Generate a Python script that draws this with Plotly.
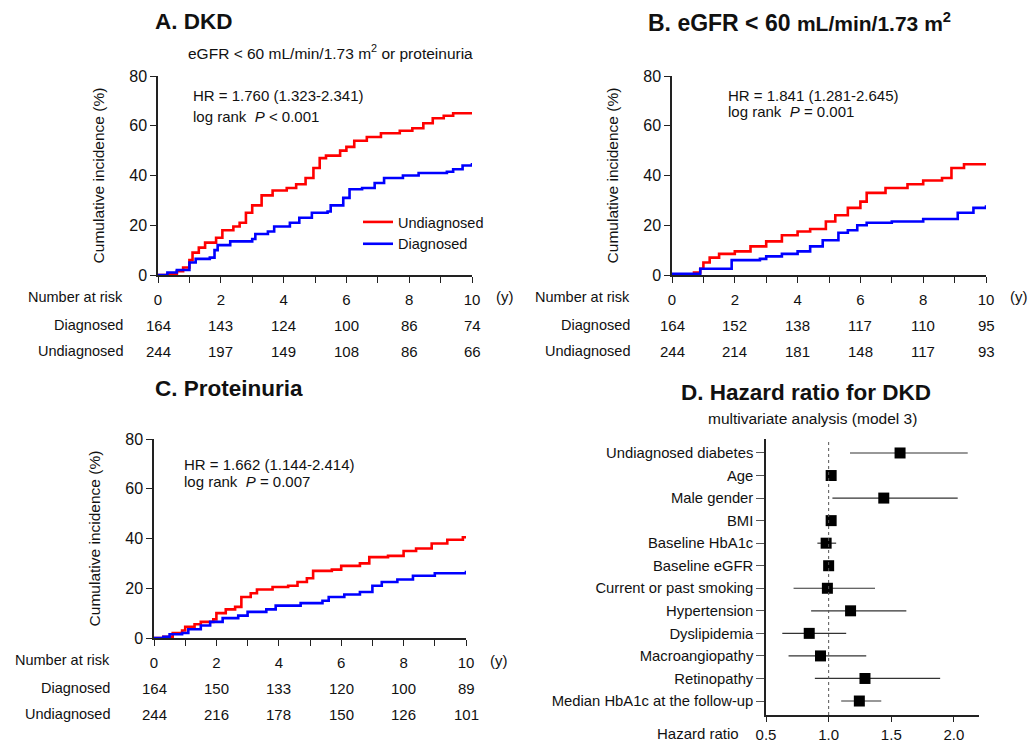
import plotly.graph_objects as go

W, H = 1029, 743
FONT = "Liberation Sans, Arial, sans-serif"

# ---------------- data ----------------
years_ticks = [0, 2, 4, 6, 8, 10]

A_red_t = [0, 0.3, 0.6, 0.8, 1.0, 1.1, 1.3, 1.5, 1.85, 2.05, 2.4, 2.6, 2.8, 3.0, 3.3, 3.65, 4.1, 4.4, 4.7, 4.95, 5.15, 5.35, 5.8, 6.0, 6.25, 6.65, 7.1, 7.7, 8.1, 8.45, 8.75, 9.1, 9.4, 10]
A_red_v = [0, 0.4, 1.5, 3, 6, 9, 11, 13, 15, 18, 19.5, 21, 25, 28, 32, 34, 35, 36.5, 39, 43, 47, 48, 50, 51.5, 54, 55.5, 57, 58, 59, 61, 63, 64, 65, 65]
A_blue_t = [0, 0.3, 0.6, 0.9, 1.0, 1.2, 1.65, 1.8, 1.9, 2.3, 3.0, 3.1, 3.5, 3.7, 4.2, 4.5, 4.9, 5.4, 5.5, 5.9, 6.1, 6.5, 6.9, 7.2, 7.8, 8.3, 9.2, 9.4, 9.7, 10]
A_blue_v = [0, 1, 2, 2, 5, 6.5, 7, 10, 12, 13.5, 14.5, 16.5, 17.5, 19.5, 21, 23, 25, 25.5, 28, 31, 34.5, 35, 37, 39, 40, 41, 41.5, 42.5, 44, 45]

B_red_t = [0, 0.5, 0.7, 0.9, 1.0, 1.2, 1.5, 2.0, 2.5, 3.0, 3.5, 4.0, 4.4, 4.9, 5.2, 5.6, 6.0, 6.2, 6.8, 7.5, 8.0, 8.6, 8.9, 9.3, 10]
B_red_v = [0, 0.3, 1, 2.5, 5, 7, 8.5, 9.5, 11.5, 13.5, 16, 17.5, 18.5, 21.5, 24, 27, 29.5, 33, 35, 36.5, 38, 39, 43, 44.5, 45]
B_blue_t = [0, 0.9, 1.7, 1.9, 2.8, 3.0, 3.5, 4.0, 4.4, 4.8, 5.3, 5.6, 5.9, 6.2, 7.0, 8.0, 8.8, 9.1, 9.6, 10]
B_blue_v = [0.5, 2.5, 2.5, 6, 6.5, 7.5, 8.5, 9.5, 11.5, 14, 17, 18, 20, 21, 21.5, 22.5, 22.5, 25, 27, 28]

C_red_t = [0, 0.3, 0.6, 0.9, 1.0, 1.3, 1.5, 1.9, 2.0, 2.3, 2.6, 2.8, 3.1, 3.3, 3.8, 4.3, 4.6, 4.9, 5.1, 5.7, 6.0, 6.6, 6.9, 7.5, 8.0, 8.4, 8.9, 9.4, 9.9, 10]
C_red_v = [0, 0.5, 2, 3, 4.5, 5.5, 6.5, 7.5, 10, 11.5, 12.5, 16.5, 18, 19.5, 20.5, 21, 22.5, 24, 27, 27.5, 29, 30, 32.5, 33, 35, 36, 38, 39.5, 40.5, 40.5]
C_blue_t = [0, 0.3, 0.5, 0.9, 1.1, 1.5, 1.8, 2.2, 2.7, 3.0, 3.6, 3.9, 4.7, 5.4, 5.6, 6.1, 6.6, 7.0, 7.3, 7.8, 8.3, 9.0, 10]
C_blue_v = [0, 0.5, 1.5, 2, 3.5, 5, 6.5, 8, 9, 10.5, 11.5, 13, 14, 15, 16.5, 17.5, 18.5, 21, 22.5, 23.5, 25, 26, 27]

A_risk_diag = [164, 143, 124, 100, 86, 74]
A_risk_undiag = [244, 197, 149, 108, 86, 66]
B_risk_diag = [164, 152, 138, 117, 110, 95]
B_risk_undiag = [244, 214, 181, 148, 117, 93]
C_risk_diag = [164, 150, 133, 120, 100, 89]
C_risk_undiag = [244, 216, 178, 150, 126, 101]

forest_labels = ["Undiagnosed diabetes", "Age", "Male gender", "BMI", "Baseline HbA1c",
                 "Baseline eGFR", "Current or past smoking", "Hypertension", "Dyslipidemia",
                 "Macroangiopathy", "Retinopathy", "Median HbA1c at the follow-up"]
forest_hr = [1.57, 1.02, 1.44, 1.02, 0.98, 1.00, 0.99, 1.175, 0.845, 0.935, 1.29, 1.245]
forest_lo = [1.17, 1.00, 1.03, 1.00, 0.91, 0.99, 0.72, 0.86, 0.63, 0.68, 0.89, 1.10]
forest_hi = [2.11, 1.04, 2.03, 1.04, 1.06, 1.01, 1.37, 1.62, 1.14, 1.30, 1.89, 1.42]

# ---------------- helpers ----------------
def px(x):
    return x / W

def py(y):
    return 1 - y / H

RED = "#ff0000"
BLUE = "#0000ff"
AX = "#222222"
TXT = "#111111"

fig = go.Figure()

panels = [
    ("A", "x", "y", (A_red_t, A_red_v), (A_blue_t, A_blue_v), (A_risk_diag, A_risk_undiag), (158, 472), (76, 275), 125),
    ("B", "x2", "y2", (B_red_t, B_red_v), (B_blue_t, B_blue_v), (B_risk_diag, B_risk_undiag), (672, 986), (76, 275), 632),
    ("C", "x3", "y3", (C_red_t, C_red_v), (C_blue_t, C_blue_v), (C_risk_diag, C_risk_undiag), (154, 466), (439, 638), 112),
]

layout_axes = {}
annotations = []

for i, (name, xa, ya, red, blue, risk, xd, yd, lab_x) in enumerate(panels):
    show = name == "A"
    fig.add_trace(go.Scatter(x=red[0], y=red[1], mode="lines", line=dict(color=RED, width=2.6, shape="hv"),
                             name="Undiagnosed", showlegend=show, legendrank=1, xaxis=xa, yaxis=ya))
    fig.add_trace(go.Scatter(x=blue[0], y=blue[1], mode="lines", line=dict(color=BLUE, width=2.6, shape="hv"),
                             name="Diagnosed", showlegend=show, legendrank=2, xaxis=xa, yaxis=ya))
    suffix = "" if i == 0 else str(i + 1)
    layout_axes["xaxis" + suffix] = dict(
        domain=[px(xd[0]), px(xd[1])], range=[0, 10], anchor=ya,
        tickvals=list(range(0, 11)), ticktext=[str(v) if v % 2 == 0 else " " for v in range(0, 11)],
        ticks="outside", ticklen=6, tickwidth=1.3, tickcolor=AX,
        showline=True, linecolor=AX, linewidth=1.5, showgrid=False, zeroline=False,
        tickfont=dict(family=FONT, size=15, color=TXT), ticklabelstandoff=4,
    )
    layout_axes["yaxis" + suffix] = dict(
        domain=[py(yd[1]), py(yd[0])], range=[0, 80], anchor=xa,
        tickvals=[0, 20, 40, 60, 80], ticks="outside", ticklen=6, tickwidth=1.3, tickcolor=AX,
        showline=True, linecolor=AX, linewidth=1.5, showgrid=False, zeroline=False,
        tickfont=dict(family=FONT, size=16, color=TXT),
        title=dict(text="Cumulative incidence (%)", font=dict(family=FONT, size=15.5, color=TXT), standoff=21),
    )
    base = yd[1]
    for j, yr in enumerate(years_ticks):
        annotations.append(dict(x=yr, y=py(base + 50), xref=xa, yref="paper", text=str(risk[0][j]),
                                xanchor="center", yanchor="middle",
                                showarrow=False, font=dict(family=FONT, size=15, color=TXT)))
        annotations.append(dict(x=yr, y=py(base + 76), xref=xa, yref="paper", text=str(risk[1][j]),
                                xanchor="center", yanchor="middle",
                                showarrow=False, font=dict(family=FONT, size=15, color=TXT)))
    for label, dy in (("Number at risk", 22), ("Diagnosed", 50), ("Undiagnosed", 76)):
        annotations.append(dict(x=px(lab_x), y=py(base + dy), xref="paper", yref="paper", text=label,
                                xanchor="right", yanchor="middle", showarrow=False,
                                font=dict(family=FONT, size=14.5, color=TXT)))
    annotations.append(dict(x=px(xd[1] + 22), y=py(base + 22), xref="paper", yref="paper", text="(y)",
                            xanchor="left", yanchor="middle", showarrow=False,
                            font=dict(family=FONT, size=15, color=TXT)))

# ---------------- forest plot ----------------
rows = list(range(len(forest_labels)))
fig.add_trace(go.Scatter(
    x=forest_hr, y=rows, mode="markers", showlegend=False, xaxis="x4", yaxis="y4",
    marker=dict(symbol="square", size=11, color="black"),
    error_x=dict(type="data", symmetric=False,
                 array=[h - m for h, m in zip(forest_hi, forest_hr)],
                 arrayminus=[m - l for m, l in zip(forest_hr, forest_lo)],
                 color="#333", thickness=1.2, width=0),
))
layout_axes["xaxis4"] = dict(
    domain=[px(766), px(979)], range=[0.5, 2.2], anchor="y4",
    tickvals=[0.5, 1.0, 1.5, 2.0], ticktext=["0.5", "1.0", "1.5", "2.0"],
    ticks="outside", ticklen=5, tickwidth=1.2, tickcolor=AX,
    showline=True, linecolor=AX, linewidth=1.5, showgrid=False, zeroline=False,
    tickfont=dict(family=FONT, size=15, color=TXT),
)
layout_axes["yaxis4"] = dict(
    domain=[py(715), py(439)], range=[11.62, -0.62], anchor="x4",
    tickvals=rows, ticktext=forest_labels,
    ticks="outside", ticklen=8, tickwidth=1.2, tickcolor="#555",
    showline=True, linecolor=AX, linewidth=1.5, showgrid=False, zeroline=False,
    tickfont=dict(family=FONT, size=14.8, color=TXT),
)

shapes = [dict(type="line", xref="x4", yref="y4 domain", x0=1.0, x1=1.0, y0=0, y1=1,
               line=dict(color="#555", width=1, dash="dot"))]

# ---------------- titles & notes ----------------
def txt(x, y, s, size=15, bold=False, anchor="left"):
    annotations.append(dict(x=px(x), y=py(y), xref="paper", yref="paper", text=("<b>%s</b>" % s) if bold else s,
                            xanchor=anchor, yanchor="middle", showarrow=False,
                            font=dict(family=FONT, size=size, color=TXT)))

txt(153, 21, "A. DKD", size=22.5, bold=True)
txt(186, 52, "eGFR &lt; 60 mL/min/1.73 m<sup>2</sup> or proteinuria", size=15.5)
txt(646, 22, "B. eGFR &lt; 60 <span style='font-size:21px'>mL/min/1.73 m<sup>2</sup></span>", size=23, bold=True)
txt(153, 388, "C. Proteinuria", size=22.5, bold=True)
txt(806, 392, "D. Hazard ratio for DKD", size=22.5, bold=True, anchor="center")
txt(812, 418, "multivariate analysis (model 3)", size=15.5, anchor="center")

txt(191, 96, "HR = 1.760 (1.323-2.341)")
txt(191, 117, "log rank  <i>P</i> &lt; 0.001")
txt(726, 95, "HR = 1.841 (1.281-2.645)")
txt(726, 112, "log rank  <i>P</i> = 0.001")
txt(182, 464, "HR = 1.662 (1.144-2.414)")
txt(182, 481, "log rank  <i>P</i> = 0.007")

txt(741, 733, "Hazard ratio", anchor="right")

fig.update_layout(
    width=W, height=H, margin=dict(l=0, r=0, t=0, b=0, autoexpand=False),
    paper_bgcolor="white", plot_bgcolor="white",
    font=dict(family=FONT, size=15, color=TXT),
    annotations=annotations, shapes=shapes,
    legend=dict(x=px(358), y=py(206), xanchor="left", yanchor="top", bgcolor="rgba(0,0,0,0)",
                font=dict(family=FONT, size=14.5, color=TXT), itemwidth=30, tracegroupgap=0),
    **layout_axes,
)

fig.write_html("out.html", config={"displayModeBar": False},
               post_script="document.body.style.margin='0';document.body.style.padding='0';")
